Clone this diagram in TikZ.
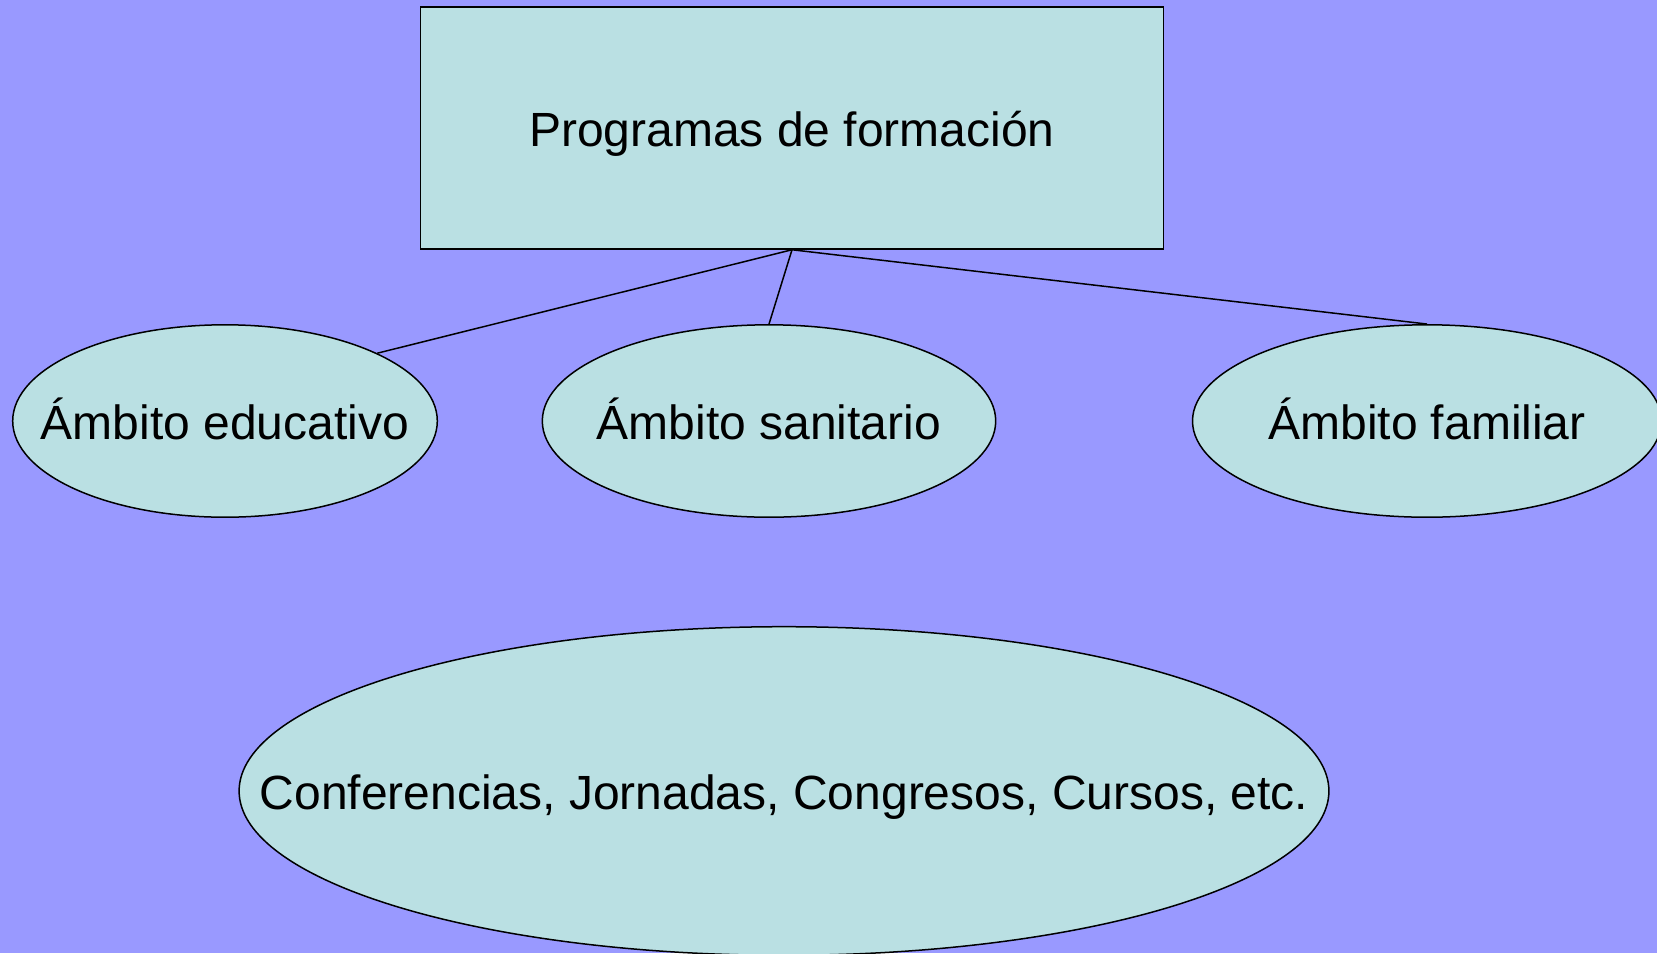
\documentclass[tikz,border=0pt]{standalone}
\usepackage{fontspec}
\setmainfont{Liberation Sans}
\usetikzlibrary{shapes.geometric}
\definecolor{fondo}{RGB}{153,153,255}
\definecolor{relleno}{RGB}{186,224,227}
\begin{document}
\begin{tikzpicture}[
	x=0.5pt, y=-0.5pt,
	every node/.style={font=\fontsize{24}{28}\selectfont,text height=18pt,text depth=0pt},
	caja/.style={rectangle,draw,fill=relleno,line width=0.75pt,minimum width=371.7pt,minimum height=121pt,inner sep=0pt},
	ambito/.style={ellipse,draw,fill=relleno,line width=0.75pt,minimum height=96.2pt,inner sep=0pt},
	enlace/.style={line width=0.75pt},
	]
\fill [fondo] (0,0) rectangle (1657,953);
\useasboundingbox (0,0) rectangle (1657,953);
\node [caja] (prog) at (792,128) {Programas de formación};
\node [ambito,minimum width=212.3pt] (edu) at (225,421) {\makebox[0pt]{Ámbito educativo}};
\node [ambito,minimum width=226.7pt] (san) at (769,421) {\makebox[0pt]{Ámbito sanitario}};
\node [ambito,minimum width=234.5pt] (fam) at (1427,421) {\makebox[0pt]{Ámbito familiar}};
\node [ambito,minimum width=544.9pt,minimum height=164.3pt] (act) at (784,791) {\makebox[0pt]{Conferencias, Jornadas, Congresos, Cursos, etc.}};
\draw [enlace] (prog.south) -- (edu.24.4);
\draw [enlace] (prog.south) -- (san.north);
\draw [enlace] (prog.south) -- (fam.north);
\end{tikzpicture}
\end{document}
